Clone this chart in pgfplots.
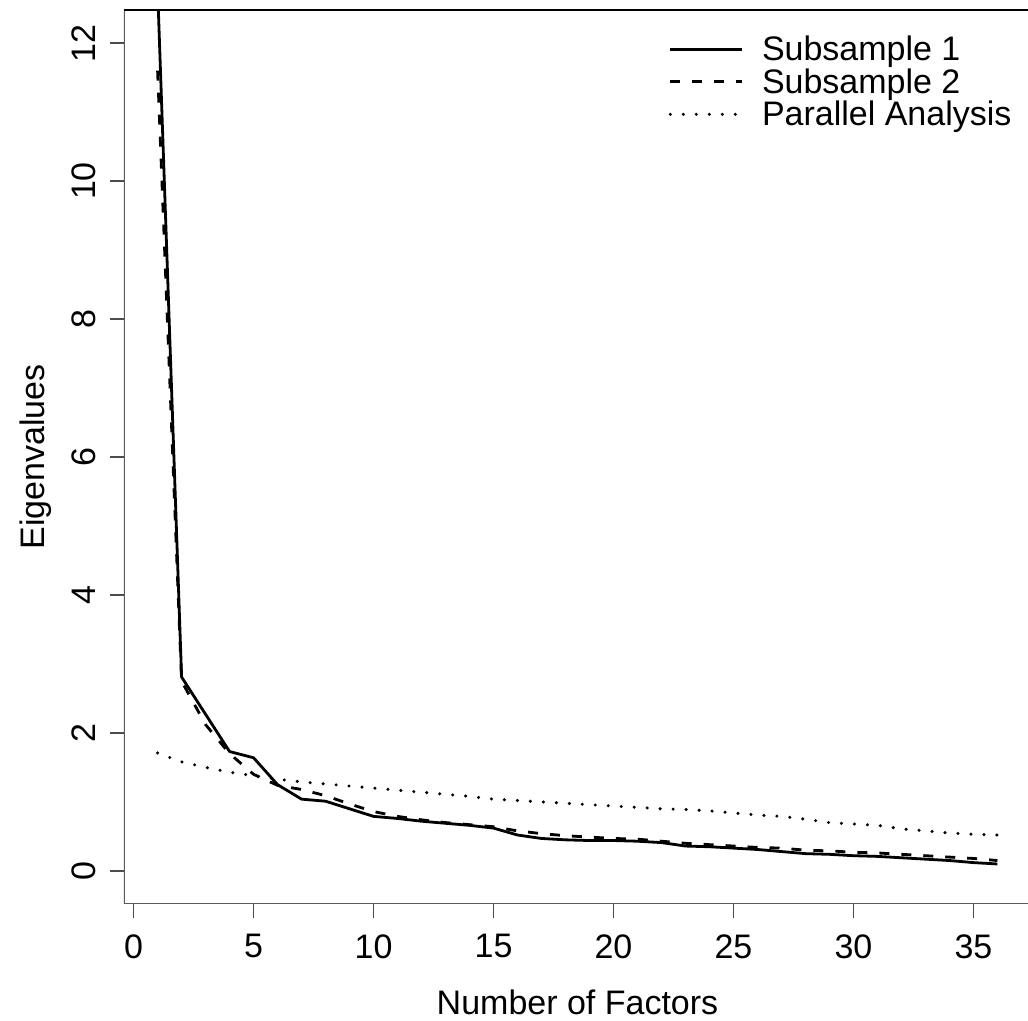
\documentclass[border=0pt]{standalone}
\usepackage{fontspec}
\setmainfont{Liberation Sans}
\usepackage{pgfplots}
\pgfplotsset{compat=1.18}

\pgfplotstableread{
f  s1     s2     pa
1  12.80  11.60  1.71
2  2.81   2.75   1.58
3  2.27   2.12   1.50
4  1.73   1.70   1.43
5  1.64   1.40   1.38
6  1.25   1.24   1.33
7  1.04   1.18   1.29
8  1.01   1.09   1.26
9  0.90   0.97   1.23
10 0.79   0.86   1.20
11 0.76   0.79   1.17
12 0.72   0.74   1.14
13 0.69   0.70   1.11
14 0.66   0.67   1.08
15 0.62   0.64   1.04
16 0.52   0.58   1.02
17 0.47   0.54   1.00
18 0.45   0.51   0.98
19 0.44   0.49   0.96
20 0.44   0.47   0.94
21 0.43   0.46   0.92
22 0.41   0.43   0.90
23 0.36   0.40   0.89
24 0.35   0.38   0.87
25 0.33   0.36   0.84
26 0.31   0.34   0.81
27 0.28   0.33   0.79
28 0.25   0.30   0.75
29 0.24   0.29   0.70
30 0.22   0.27   0.68
31 0.21   0.26   0.66
32 0.19   0.24   0.61
33 0.17   0.22   0.58
34 0.15   0.20   0.55
35 0.12   0.18   0.53
36 0.10   0.15   0.52
}\eigen

\begin{document}
\begin{tikzpicture}[font=\fontsize{17}{20}\selectfont]
\begin{axis}[
  at={(0pt,0pt)},anchor=south west,
  scale only axis,width=453.5pt,height=447pt,
  xmin=-0.4,xmax=37.4,ymin=-0.48,ymax=12.48,
  xtick={0,5,...,35},ytick={0,2,...,12},
  axis line style={draw=none},
  tick style={black!70,line width=0.8pt},
  tick align=outside,major tick length=7pt,
  xtick pos=bottom,ytick pos=left,
  /pgf/number format/assume math mode=true,
  xticklabel style={anchor=north,inner sep=0pt,yshift=-8pt},
  yticklabel style={rotate=90,anchor=south,inner sep=0pt,yshift=7pt},
  xlabel={Number of Factors},ylabel={Eigenvalues},
  xlabel style={at={(axis description cs:0.5,0)},anchor=base,yshift=-55.5pt},
  ylabel style={at={(axis description cs:0,0.5)},anchor=base,yshift=39.5pt},
  legend style={draw=none,fill=none,at={(0.6,0.976)},anchor=north west,
    inner sep=0pt,row sep=-1.25pt,
    /tikz/every odd column/.append style={column sep=7pt},
    nodes={inner sep=2pt,text height=12.5pt,text depth=1pt}},
  legend cell align=left,
  legend image code/.code={\draw[#1] (0pt,0pt) -- (36pt,0pt);},
  every axis plot/.append style={black,line width=1.4pt,line join=round},
]
\addplot[solid] table[x=f,y=s1] {\eigen};
\addlegendentry{Subsample 1}
\addplot[dash pattern=on 5pt off 6pt] table[x=f,y=s2] {\eigen};
\addlegendentry{Subsample 2}
\addplot[line cap=round,line width=1.7pt,dash pattern=on 0pt off 6.5pt] table[x=f,y=pa] {\eigen};
\addlegendentry{Parallel Analysis}
\draw[black!65,line width=0.8pt] (rel axis cs:0,1) -- (rel axis cs:0,0) -- (rel axis cs:1,0);
\draw[black,line width=1.4pt] (rel axis cs:0,1) -- (rel axis cs:1,1);
\end{axis}
\pgfresetboundingbox
\useasboundingbox (-62pt,-58.5pt) rectangle (452pt,452pt);
\end{tikzpicture}
\end{document}
